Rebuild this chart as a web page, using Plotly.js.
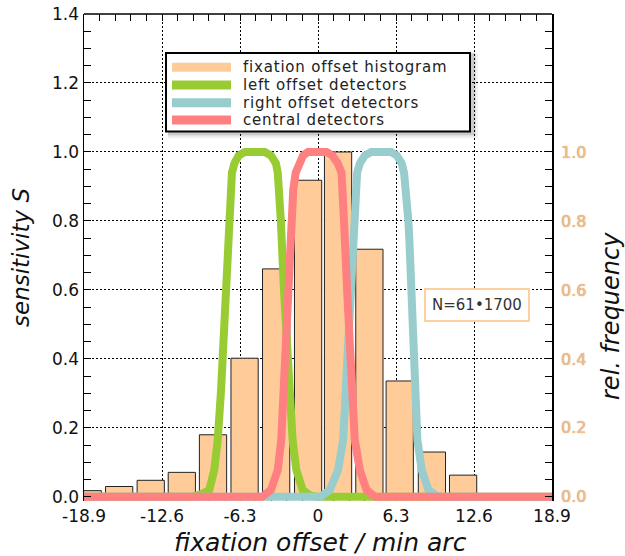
<!DOCTYPE html>
<html>
<head>
<meta charset="utf-8">
<script src="https://cdn.plot.ly/plotly-3.0.1.min.js"></script>
<style>html,body{margin:0;padding:0;background:#fff;}#chart{width:625px;height:556px;}</style>
</head>
<body>
<div id="chart"></div>
<script>
// ---- data ----
const binCenters = [-18.60, -16.06, -13.51, -11.00, -8.48, -5.93, -3.38, -0.80, 1.62, 4.15, 6.60, 9.20, 11.72, 14.23];
const relFrequency = [0.018, 0.030, 0.048, 0.071, 0.180, 0.402, 0.661, 0.918, 1.000, 0.718, 0.336, 0.130, 0.063, 0.008];

const leftX = [-18.9, -10.2, -9.35, -8.78, -8.38, -8.10, -7.83, -7.50, -7.20, -7.05, -6.95, -6.75, -6.40, -5.90, -4.30, -3.80, -3.40, -3.25, -3.15, -3.00, -2.75, -2.35, -2.05, -1.75, -1.24, -0.60, 0.0, 18.9];
const leftS = [0, 0, 0.009, 0.02, 0.078, 0.165, 0.31, 0.56, 0.80, 0.89, 0.94, 0.967, 0.99, 1.0, 1.0, 0.99, 0.967, 0.94, 0.89, 0.80, 0.60, 0.34, 0.165, 0.078, 0.02, 0.003, 0, 0];

const rightX = [-18.9, 0.2, 0.95, 1.62, 2.03, 2.30, 2.55, 2.79, 2.90, 3.06, 3.16, 3.38, 3.79, 4.30, 5.90, 6.36, 6.76, 6.95, 7.11, 7.30, 7.38, 7.60, 7.84, 8.03, 8.38, 8.92, 9.70, 18.9];
const rightS = [0, 0, 0.02, 0.078, 0.165, 0.34, 0.55, 0.745, 0.80, 0.89, 0.94, 0.967, 0.99, 1.0, 1.0, 0.99, 0.967, 0.94, 0.89, 0.80, 0.745, 0.55, 0.34, 0.165, 0.078, 0.02, 0, 0];

const centralX = [-18.9, -4.5, -3.80, -3.25, -2.97, -2.75, -2.45, -2.20, -2.00, -1.80, -1.56, -1.20, -0.80, 0.70, 1.15, 1.60, 1.90, 2.00, 2.10, 2.35, 2.64, 2.97, 3.38, 3.92, 4.6, 18.9];
const centralS = [0, 0, 0.02, 0.078, 0.165, 0.34, 0.60, 0.80, 0.89, 0.94, 0.967, 0.99, 1.0, 1.0, 0.99, 0.967, 0.94, 0.89, 0.80, 0.60, 0.34, 0.165, 0.078, 0.02, 0, 0];

const xTickVals = [-18.9, -12.6, -6.3, 0, 6.3, 12.6, 18.9];
const xTickText = ['-18.9', '-12.6', '-6.3', '0', '6.3', '12.6', '18.9'];
const rTickVals = [0, 0.2, 0.4, 0.6, 0.8, 1.0];
const rTickText = ['0.0', '0.2', '0.4', '0.6', '0.8', '1.0'];

const legendLabels = ['fixation offset histogram', 'left offset detectors', 'right offset detectors', 'central detectors'];
const legendColors = ['#ffcc99', '#99cc33', '#99cccc', '#ff8080'];
const noteText = 'N=61\u20221700';

// ---- layout helpers (pixel -> paper) ----
const W = 625, H = 556;
const M = {l: 84, r: 73, t: 14, b: 55};
const PW = W - M.l - M.r, PH = H - M.t - M.b;
const px = v => (v - M.l) / PW;
const py = v => (H - M.b - v) / PH;
const FONT = 'DejaVu Sans';

const traces = [
  {type: 'bar', x: binCenters, y: relFrequency, width: 2.2,
   marker: {color: legendColors[0], line: {color: '#222', width: 1}}, hoverinfo: 'skip'},
  {type: 'scatter', mode: 'lines', x: leftX, y: leftS, line: {color: legendColors[1], width: 8}, hoverinfo: 'skip'},
  {type: 'scatter', mode: 'lines', x: rightX, y: rightS, line: {color: legendColors[2], width: 8}, hoverinfo: 'skip'},
  {type: 'scatter', mode: 'lines', x: centralX, y: centralS, line: {color: legendColors[3], width: 8}, hoverinfo: 'skip'},
  // the histogram again, invisible, so that the right-hand (rel. frequency) axis is drawn
  {type: 'scatter', mode: 'markers', x: binCenters, y: relFrequency, yaxis: 'y2',
   marker: {opacity: 0, size: 1}, hoverinfo: 'skip'}
];

const shapes = [];
const annotations = [];

// legend (drawn by hand to match the wide swatches)
const LB = {x0: 166, y0: 53, x1: 470, y1: 131.5};
[[6, 0.05], [4, 0.07], [2.5, 0.09]].forEach(([o, a]) => {
  shapes.push({type: 'rect', xref: 'paper', yref: 'paper', layer: 'above',
    x0: px(LB.x0 + 2), x1: px(LB.x1 + o + 2), y0: py(LB.y0 - 2 + o / 2), y1: py(LB.y1 + o + 1),
    fillcolor: 'rgba(0,0,0,' + a + ')', line: {width: 0}});
});
shapes.push({type: 'rect', xref: 'paper', yref: 'paper', layer: 'above',
  x0: px(LB.x0), x1: px(LB.x1), y0: py(LB.y0), y1: py(LB.y1),
  fillcolor: '#fff', line: {color: '#000', width: 2}});
const rowY = [67.3, 85, 102.7, 120];
legendLabels.forEach((t, i) => {
  shapes.push({type: 'rect', xref: 'paper', yref: 'paper', layer: 'above',
    x0: px(172), x1: px(231), y0: py(rowY[i] - 4.5), y1: py(rowY[i] + 4.5),
    fillcolor: legendColors[i], line: {width: 0}});
  annotations.push({xref: 'paper', yref: 'paper', x: px(241), y: py(rowY[i]), xanchor: 'left', yanchor: 'middle',
    text: '<span style="letter-spacing:0.8px">' + t + '</span>', showarrow: false,
    font: {family: FONT, size: 15, color: '#222'}});
});
// top frame line
shapes.push({type: 'line', xref: 'paper', yref: 'paper', layer: 'above', x0: 0, x1: 1, y0: 1, y1: 1, line: {color: '#000', width: 1.5}});

// N note
annotations.push({xref: 'paper', yref: 'paper', x: px(476.7), y: py(304.7), xanchor: 'center', yanchor: 'middle',
  text: noteText, showarrow: false, font: {family: FONT, size: 15, color: '#333'},
  bgcolor: '#fff', bordercolor: '#fcd0a0', borderwidth: 2, borderpad: 6});

// axis titles
annotations.push({xref: 'paper', yref: 'paper', x: px(21), y: py(258), textangle: -90, xanchor: 'center', yanchor: 'middle',
  text: 'sensitivity S', showarrow: false, font: {family: FONT, size: 23, style: 'italic', color: '#111'}});
annotations.push({xref: 'paper', yref: 'paper', x: px(611), y: py(316), textangle: -90, xanchor: 'center', yanchor: 'middle',
  text: 'rel. frequency', showarrow: false, font: {family: FONT, size: 24, style: 'italic', color: '#111'}});
annotations.push({xref: 'paper', yref: 'paper', x: px(320), y: py(542), xanchor: 'center', yanchor: 'middle',
  text: 'fixation offset / min arc', showarrow: false, font: {family: FONT, size: 25, style: 'italic', color: '#111'}});

const layout = {
  width: W, height: H, margin: M, showlegend: false,
  paper_bgcolor: '#fff', plot_bgcolor: '#fff',
  font: {family: FONT, color: '#111'},
  xaxis: {range: [-18.9, 18.9], tickmode: 'array', tickvals: xTickVals, ticktext: xTickText,
    tickfont: {family: FONT, size: 17, color: '#111'},
    ticks: 'inside', ticklen: 7, tickcolor: '#000', tickwidth: 1,
    showline: true, linecolor: 'rgba(0,0,0,0)', mirror: 'ticks', layer: 'below traces',
    showgrid: true, gridcolor: '#000', gridwidth: 1, griddash: '2px,2px', zeroline: false,
    minor: {tick0: 0, dtick: 1.26, ticks: 'inside', ticklen: 7, tickcolor: '#000', showgrid: false}},
  yaxis: {range: [-0.012, 1.4], tick0: 0, dtick: 0.2, tickformat: '.1f',
    tickfont: {family: FONT, size: 17, color: '#111'},
    ticks: 'inside', ticklen: 7, tickcolor: '#000', tickwidth: 1,
    showline: true, linecolor: '#000', linewidth: 1.5, mirror: 'ticks',
    showgrid: true, gridcolor: '#000', gridwidth: 1, griddash: '2px,2px', zeroline: false,
    minor: {tick0: 0, dtick: 0.05, ticks: 'inside', ticklen: 7, tickcolor: '#000', showgrid: false}},
  yaxis2: {overlaying: 'y', side: 'right', range: [-0.012, 1.4], tickmode: 'array', tickvals: rTickVals, ticktext: rTickText,
    tickfont: {family: FONT, size: 16, color: '#f3c08c', shadow: '0px 0px 1px #b8743a'},
    ticks: '', showgrid: false, zeroline: false, showline: false, ticklabelstandoff: 8},
  shapes: shapes, annotations: annotations
};

Plotly.newPlot('chart', traces, layout, {displayModeBar: false, staticPlot: true});
</script>
</body>
</html>
